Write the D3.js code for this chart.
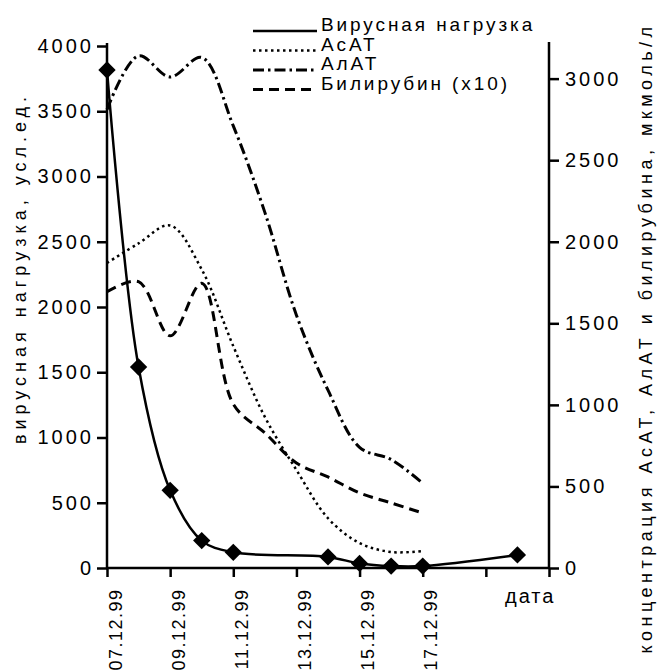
<!DOCTYPE html>
<html>
<head>
<meta charset="utf-8">
<script src="https://cdnjs.cloudflare.com/ajax/libs/d3/7.8.5/d3.min.js"></script>
<style>
  body{margin:0;background:#fff;}
  svg text{font-family:"Liberation Sans",Arial,sans-serif;fill:#000;}
</style>
</head>
<body>
<script>
// days of December 1999
var virusDays=[7,8,9,10,11,14,15,16,17,20];
var virusLoad=[3816,1540,595,210,120,85,35,15,15,100];

var labDays=[7,8,9,10,11,12,13,14,15,16,17];
var asat=[1870,1990,2100,1830,1360,926,601,305,153,98,104];
var alat=[2810,3140,3010,3130,2710,2180,1550,1090,740,665,520];
var bilirubin=[1693,1755,1423,1745,1005,828,644,558,460,399,337];

var xTicks=[7,9,11,13,15,17,19,21];
var xTickLabels=["07.12.99","09.12.99","11.12.99","13.12.99","15.12.99","17.12.99","",""];
var leftTicks=[0,500,1000,1500,2000,2500,3000,3500,4000];
var rightTicks=[0,500,1000,1500,2000,2500,3000];
var legendLabels=["Вирусная нагрузка","АсАТ","АлАТ","Билирубин (x10)"];

var drawGraph=function(w,h)
{
  var svg=d3.select("body").append("svg")
            .attr("width",w)
            .attr("height",h);

  var plot={left:107,right:549,top:46,bottom:568};

  var xScale=d3.scaleLinear()
               .domain([7,21])
               .range([plot.left,plot.right]);
  var yLeft=d3.scaleLinear()
              .domain([0,4000])
              .range([plot.bottom,plot.top]);
  var yRight=d3.scaleLinear()
               .domain([0,3200])
               .range([plot.bottom,plot.top]);

  var styles=[
    {dash:null,width:2.5},
    {dash:"2.5,3.5",width:2.5},
    {dash:"11,4,2.5,4",width:3},
    {dash:"10,6",width:3}
  ];

  //curves
  var smooth=d3.curveCatmullRom.alpha(0.5);
  var lineL=d3.line()
              .x(function(d){return xScale(d[0]);})
              .y(function(d){return yLeft(d[1]);})
              .curve(smooth);
  var lineR=d3.line()
              .x(function(d){return xScale(d[0]);})
              .y(function(d){return yRight(d[1]);})
              .curve(smooth);

  var series=[asat,alat,bilirubin];
  series.forEach(function(s,i)
  {
    svg.append("path")
       .datum(d3.zip(labDays,s))
       .attr("d",lineR)
       .attr("fill","none")
       .attr("stroke","#000")
       .attr("stroke-width",styles[i+1].width)
       .attr("stroke-dasharray",styles[i+1].dash);
  });

  var virus=d3.zip(virusDays,virusLoad);
  svg.append("path")
     .datum(virus)
     .attr("d",lineL)
     .attr("fill","none")
     .attr("stroke","#000")
     .attr("stroke-width",styles[0].width);

  var diamond=d3.symbol().type(d3.symbolSquare).size(150);
  svg.selectAll(".marker")
     .data(virus)
     .enter()
     .append("path")
     .classed("marker",true)
     .attr("d",diamond)
     .attr("fill","#000")
     .attr("transform",function(d){
       return "translate("+xScale(d[0])+","+yLeft(d[1])+") rotate(45)";});

  //axes
  var fontSize="20px";
  var xAxis=d3.axisBottom(xScale)
              .tickValues(xTicks)
              .tickSize(9)
              .tickFormat(function(d,i){return xTickLabels[i];});
  var gx=svg.append("g").classed("xAxis",true)
            .attr("transform","translate(0,"+plot.bottom+")")
            .call(xAxis);
  gx.selectAll("text")
    .attr("transform","rotate(-90)")
    .attr("text-anchor","end")
    .attr("x",-20.5)
    .attr("y",0)
    .attr("dy","14px")
    .style("font-size","18px")
    .style("letter-spacing","1.5px");

  var yAxisL=d3.axisLeft(yLeft).tickValues(leftTicks).tickSize(10).tickPadding(3)
               .tickFormat(d3.format("d"));
  var gl=svg.append("g").classed("yAxis",true)
            .attr("transform","translate("+plot.left+",0)")
            .call(yAxisL);
  gl.selectAll("text").style("font-size",fontSize).style("letter-spacing","3px");

  var yAxisR=d3.axisRight(yRight).tickValues(rightTicks).tickSize(10).tickPadding(6)
               .tickFormat(d3.format("d"));
  var gr=svg.append("g").classed("yAxis",true)
            .attr("transform","translate("+plot.right+",0)")
            .call(yAxisR);
  gr.selectAll("text").style("font-size",fontSize).style("letter-spacing","3px");

  [gx,gl,gr].forEach(function(g)
  {
    g.selectAll("line").attr("stroke-width",2.5);
    g.attr("font-family",null).attr("font-size",null);
    g.select(".domain").remove();
  });
  svg.append("line").attr("x1",plot.left-1).attr("x2",plot.right+1)
     .attr("y1",plot.bottom).attr("y2",plot.bottom)
     .attr("stroke","#000").attr("stroke-width",2.5);
  svg.append("line").attr("x1",plot.left).attr("x2",plot.left)
     .attr("y1",plot.top-3).attr("y2",plot.bottom)
     .attr("stroke","#000").attr("stroke-width",2.5);
  svg.append("line").attr("x1",plot.right).attr("x2",plot.right)
     .attr("y1",plot.top-4).attr("y2",plot.bottom)
     .attr("stroke","#000").attr("stroke-width",2.5);

  svg.append("text")
     .attr("x",505)
     .attr("y",603)
     .style("font-size",fontSize)
     .style("letter-spacing","2px")
     .text("дата");

  svg.append("text")
     .attr("transform","translate(26,268) rotate(-90)")
     .attr("text-anchor","middle")
     .style("font-size","18px")
     .style("letter-spacing","5px")
     .text("вирусная нагрузка, усл.ед.");

  svg.append("text")
     .attr("transform","translate(652,338) rotate(-90)")
     .attr("text-anchor","middle")
     .style("font-size","18px")
     .style("letter-spacing","4.5px")
     .text("концентрация АсАТ, АлАТ и билирубина, мкмоль/л");

  //the legend
  var legend=svg.append("g")
                .classed("legend",true)
                .attr("transform","translate(253,31)");
  var legendLines=legend.selectAll("g")
                        .data(legendLabels)
                        .enter()
                        .append("g")
                        .attr("transform",function(d,i){
                          return "translate(0,"+(i*19.5)+")";});
  legendLines.append("line")
             .attr("x1",0)
             .attr("x2",64)
             .attr("y1",0)
             .attr("y2",0)
             .attr("stroke","#000")
             .attr("stroke-width",function(d,i){return styles[i].width;})
             .attr("stroke-dasharray",function(d,i){return styles[i].dash;});
  legendLines.append("text")
             .attr("x",68)
             .attr("y",0)
             .style("font-size","19px")
             .style("letter-spacing","2.9px")
             .text(function(d){return d;});
};

drawGraph(660,670);
</script>
</body>
</html>
